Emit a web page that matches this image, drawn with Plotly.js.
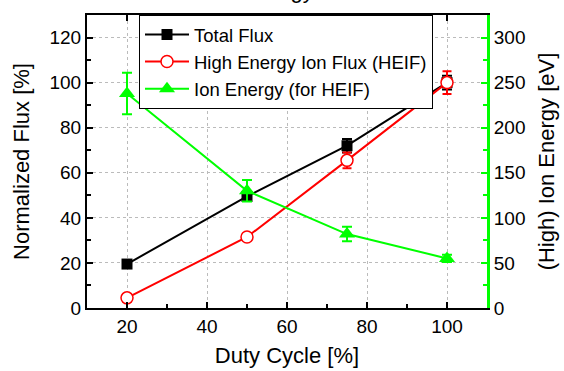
<!DOCTYPE html>
<html>
<head>
<meta charset="utf-8">
<script src="https://cdn.plot.ly/plotly-3.0.1.min.js"></script>
<style>html,body{margin:0;padding:0;background:#fff;}#chart{width:564px;height:371px;}</style>
</head>
<body>
<div id="chart"></div>
<script>
// Data
const dutyCycle = [20, 50, 75, 100];
const totalFlux = [19.5, 49.5, 72, 100];
const totalFluxErr = [1, 1.5, 3, 3];
const heifFlux = [4.5, 31.5, 65.5, 100];
const heifFluxErr = [1.5, 1, 3.5, 5];
const ionEnergy = [238, 130, 82, 55];
const ionEnergyErr = [23, 12, 8, 4];
const seriesNames = ['Total Flux', 'High Energy Ion Flux (HEIF)', 'Ion Energy (for HEIF)'];
const chartTitle = 'Energy';

const FONT = 'Liberation Sans, Arial, sans-serif';

const traces = [
  {
    x: dutyCycle, y: totalFlux, name: seriesNames[0], type: 'scatter', mode: 'lines+markers',
    line: {color: '#000000', width: 2},
    marker: {symbol: 'square', size: 11, color: '#000000'},
    error_y: {type: 'data', array: totalFluxErr, color: '#000000', thickness: 2, width: 5},
    yaxis: 'y'
  },
  {
    x: dutyCycle, y: heifFlux, name: seriesNames[1], type: 'scatter', mode: 'lines+markers',
    line: {color: '#ff0000', width: 2},
    marker: {symbol: 'circle', size: 12, color: '#ffffff', line: {color: '#ff0000', width: 1.5}},
    error_y: {type: 'data', array: heifFluxErr, color: '#ff0000', thickness: 2, width: 4.5},
    yaxis: 'y'
  },
  {
    x: dutyCycle, y: ionEnergy, name: seriesNames[2], type: 'scatter', mode: 'lines+markers',
    line: {color: '#00ff00', width: 2},
    marker: {symbol: 'triangle-up', size: 14, color: '#00ff00'},
    error_y: {type: 'data', array: ionEnergyErr, color: '#00ff00', thickness: 2, width: 5},
    yaxis: 'y2'
  }
];

const layout = {
  width: 564, height: 371,
  margin: {l: 87, r: 77, t: 15, b: 63, pad: 0},
  paper_bgcolor: '#ffffff', plot_bgcolor: '#ffffff',
  font: {family: FONT, size: 19, color: '#000000'},
  showlegend: true,
  annotations: [{
    text: chartTitle, xref: 'paper', yref: 'paper', x: 0.48, y: 1.034,
    xanchor: 'center', yanchor: 'bottom', showarrow: false,
    font: {family: FONT, size: 22, color: '#000'}
  }],
  legend: {
    x: 0.13, y: 1, xanchor: 'left', yanchor: 'top',
    bgcolor: '#ffffff', bordercolor: '#000000', borderwidth: 1,
    font: {family: FONT, size: 18.5, color: '#000'},
    itemwidth: 44, tracegroupgap: 0
  },
  xaxis: {
    range: [10, 110], tickvals: [20, 40, 60, 80, 100],
    ticks: 'inside', ticklen: 6, tickwidth: 2, tickcolor: '#000',
    minor: {tickvals: [30, 50, 70, 90], ticks: 'inside', ticklen: 4, tickwidth: 2, tickcolor: '#000', showgrid: false},
    showline: true, linecolor: '#000', linewidth: 2, mirror: 'ticks',
    showgrid: true, gridcolor: '#bbbbbb', griddash: 'dot', gridwidth: 1,
    zeroline: false,
    tickfont: {family: FONT, size: 19},
    title: {text: 'Duty Cycle [%]', font: {family: FONT, size: 22}, standoff: 12}
  },
  yaxis: {
    range: [0, 130], tickvals: [0, 20, 40, 60, 80, 100, 120],
    ticks: 'inside', ticklen: 6, tickwidth: 2, tickcolor: '#000',
    minor: {tickvals: [10, 30, 50, 70, 90, 110], ticks: 'inside', ticklen: 4, tickwidth: 2, tickcolor: '#000', showgrid: false},
    showline: true, linecolor: '#000', linewidth: 2, mirror: false,
    showgrid: true, gridcolor: '#bbbbbb', griddash: 'dot', gridwidth: 1,
    zeroline: false,
    tickfont: {family: FONT, size: 19},
    title: {text: 'Normalized Flux [%]', font: {family: FONT, size: 22}, standoff: 14}
  },
  yaxis2: {
    overlaying: 'y', side: 'right', anchor: 'x',
    range: [0, 325], tickvals: [0, 50, 100, 150, 200, 250, 300],
    ticks: 'inside', ticklen: 6, tickwidth: 2, tickcolor: '#00ff00',
    minor: {tickvals: [25, 75, 125, 175, 225, 275], ticks: 'inside', ticklen: 4, tickwidth: 2, tickcolor: '#00ff00'},
    showline: true, linecolor: '#00ff00', linewidth: 3,
    showgrid: false, zeroline: false,
    tickfont: {family: FONT, size: 19},
    title: {text: '(High) Ion Energy [eV]', font: {family: FONT, size: 22}, standoff: 15}
  }
};

Plotly.newPlot('chart', traces, layout, {displayModeBar: false, staticPlot: true});
</script>
</body>
</html>
